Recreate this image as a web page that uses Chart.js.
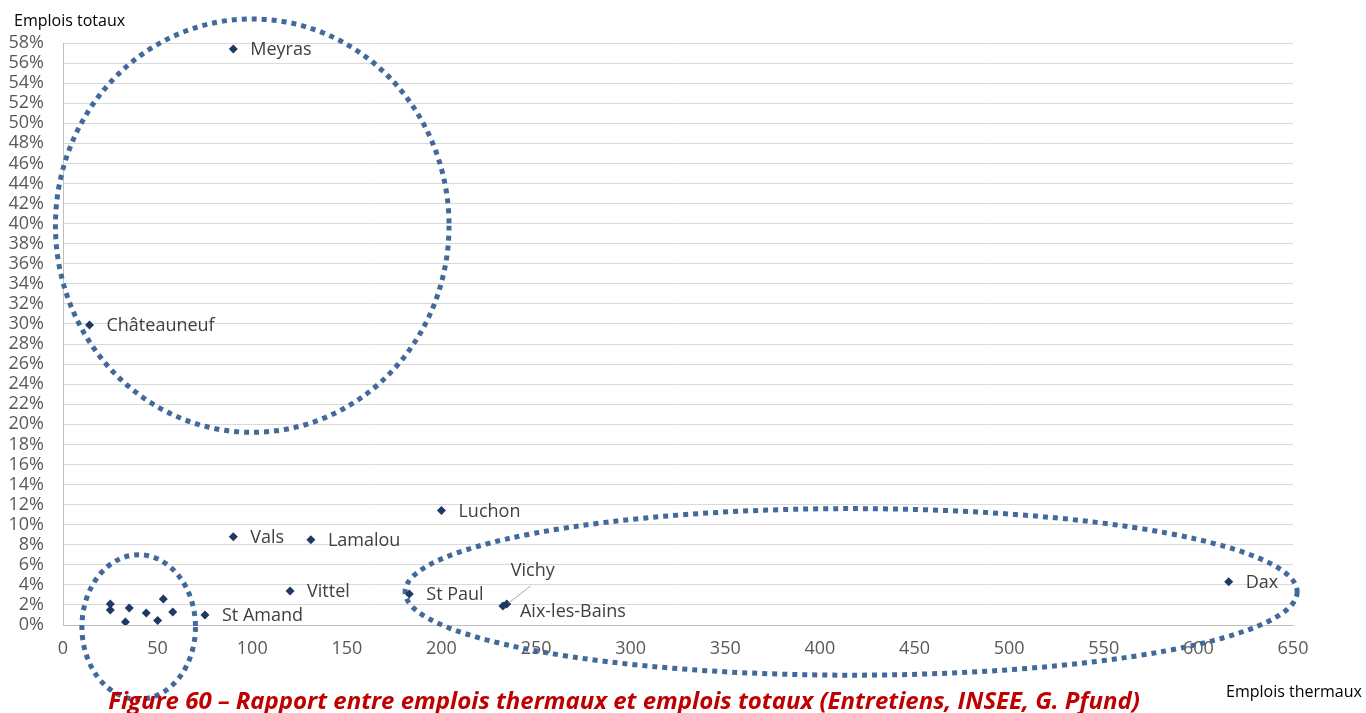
<!DOCTYPE html>
<html>
<head>
<meta charset="utf-8">
<script src="https://cdn.jsdelivr.net/npm/chart.js@4"></script>
<style>
  body { margin: 0; background: #fff; font-family: "Open Sans", sans-serif; }
  #wrap { position: relative; width: 1366px; height: 713px; }
  .txt { position: absolute; white-space: nowrap; line-height: 1; }
  #ytitle { left: 14px; top: 12px; font-size: 16px; color: #000; }
  #xtitle { left: 1226px; top: 683px; font-size: 16px; color: #000; }
  #caption { left: 0; width: 1248px; text-align: center; top: 688px; font-size: 24px; font-weight: bold; font-style: italic; color: #c00000; }
</style>
</head>
<body>
<div id="wrap">
  <canvas id="myChart" width="1366" height="713"></canvas>
  <div class="txt" id="ytitle">Emplois totaux</div>
  <div class="txt" id="xtitle">Emplois thermaux</div>
  <div class="txt" id="caption">Figure 60 – Rapport entre emplois thermaux et emplois totaux (Entretiens, INSEE, G. Pfund)</div>
</div>
<script>
// stations: thermal jobs (x) vs share of total jobs in % (y)
const names = ['Meyras', 'Châteauneuf', 'Vals', 'Lamalou', 'Luchon', 'Vittel', 'St Amand',
  'St Paul', 'Vichy', 'Aix-les-Bains', 'Dax',
  null, null, null, null, null, null, null, null];
const thermalJobs = [90, 14, 90, 131, 200, 120, 75,
  183, 234.5, 232.5, 616,
  25, 25, 35, 33, 44, 50, 53, 58];
const shareTotal = [57.4, 29.9, 8.8, 8.5, 11.4, 3.4, 1.0,
  3.1, 2.1, 1.9, 4.3,
  2.1, 1.5, 1.7, 0.3, 1.2, 0.45, 2.6, 1.3];

// dotted ellipses drawn around groups: [centerX, centerY, radiusX, radiusY] in axis units
const groupEllipses = [
  [100, 39.8, 104, 20.6],
  [40, -0.2, 30, 7.2],
  [416.5, 3.3, 235.7, 8.3]
];

const points = thermalJobs.map((x, i) => ({ x: x, y: shareTotal[i] }));

const ellipsePlugin = {
  id: 'ellipses',
  beforeDatasetsDraw(chart) {
    const ctx = chart.ctx;
    const sx = chart.scales.x, sy = chart.scales.y;
    ctx.save();
    ctx.strokeStyle = '#41699b';
    ctx.lineWidth = 5;
    ctx.setLineDash([5, 5]);
    groupEllipses.forEach(e => {
      const cx = sx.getPixelForValue(e[0]);
      const cy = sy.getPixelForValue(e[1]);
      const rx = sx.getPixelForValue(e[0] + e[2]) - cx;
      const ry = cy - sy.getPixelForValue(e[1] + e[3]);
      ctx.beginPath();
      ctx.ellipse(cx, cy, rx, ry, 0, 0, Math.PI * 2);
      ctx.stroke();
    });
    ctx.restore();
  }
};

const labelPlugin = {
  id: 'pointLabels',
  afterDatasetsDraw(chart) {
    const ctx = chart.ctx;
    const meta = chart.getDatasetMeta(0);
    ctx.save();
    ctx.font = '18px "Open Sans"';
    ctx.fillStyle = '#404040';
    ctx.textBaseline = 'middle';
    meta.data.forEach((el, i) => {
      const name = names[i];
      if (!name) return;
      if (name === 'Vichy') {
        ctx.textAlign = 'center';
        ctx.fillText(name, el.x + 26, el.y - 33);
        ctx.strokeStyle = '#a6a6a6';
        ctx.lineWidth = 1;
        ctx.beginPath();
        ctx.moveTo(el.x + 24, el.y - 18);
        ctx.lineTo(el.x + 2, el.y - 1);
        ctx.stroke();
      } else {
        ctx.textAlign = 'left';
        const dy = name === 'Aix-les-Bains' ? 6 : 1;
        ctx.fillText(name, el.x + 17, el.y + dy);
      }
    });
    ctx.restore();
  }
};

const chart = new Chart(document.getElementById('myChart'), {
  type: 'scatter',
  data: {
    datasets: [{
      data: points,
      pointStyle: 'rectRot',
      pointRadius: 4.5,
      backgroundColor: '#1f3864',
      borderColor: '#1f3864',
      borderWidth: 0
    }]
  },
  options: {
    responsive: false,
    animation: false,
    layout: { padding: { top: 43, right: 73, left: 0, bottom: 0 } },
    plugins: { legend: { display: false }, tooltip: { enabled: false } },
    scales: {
      x: {
        type: 'linear',
        min: 0,
        max: 650,
        ticks: { stepSize: 50, autoSkip: false, maxRotation: 0, color: '#595959', font: { family: 'Open Sans', size: 18 }, padding: 13 },
        grid: { display: false, drawTicks: false },
        border: { color: '#bfbfbf' },
        afterFit(scale) { scale.height = 88; }
      },
      y: {
        min: 0,
        max: 58,
        ticks: {
          stepSize: 2,
          autoSkip: false,
          color: '#595959',
          font: { family: 'Open Sans', size: 18 },
          padding: 19,
          callback: v => v + '%'
        },
        grid: { color: '#d9d9d9', drawTicks: false },
        border: { color: '#bfbfbf' },
        afterFit(scale) { scale.width = 63; }
      }
    }
  },
  plugins: [ellipsePlugin, labelPlugin]
});
</script>
</body>
</html>
